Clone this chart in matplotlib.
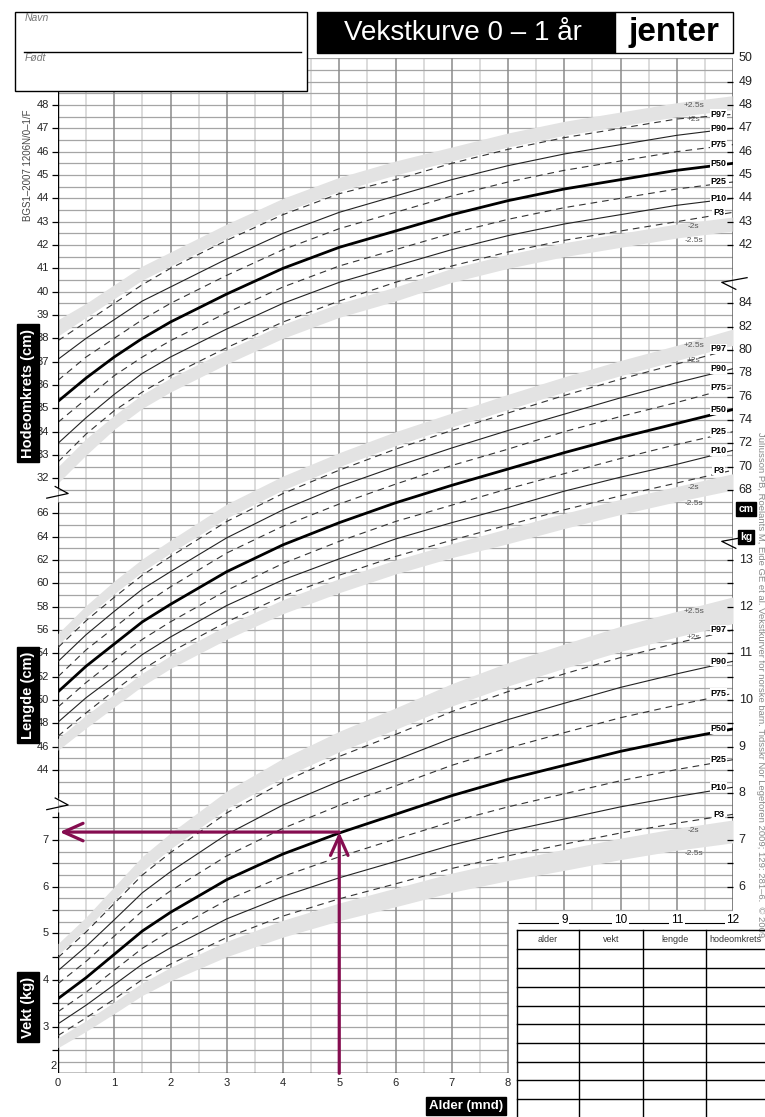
import numpy as np
import matplotlib.pyplot as plt

plt.rcParams['font.family'] = ['Liberation Sans', 'DejaVu Sans']

# alder i måneder
alder = [0, 0.5, 1, 1.5, 2, 3, 4, 5, 6, 7, 8, 9, 10, 11, 12]

# hodeomkrets (cm)
hode_m25 = [31.8, 33.0, 34.1, 35.0, 35.7, 36.9, 38.0, 38.9, 39.6, 40.4, 41.0, 41.5, 41.9, 42.3, 42.6]
hode_m2 = [32.5, 33.7, 34.7, 35.6, 36.3, 37.5, 38.6, 39.5, 40.2, 41.0, 41.6, 42.1, 42.5, 42.9, 43.2]
hode_p3 = [32.7, 33.9, 34.9, 35.7, 36.4, 37.6, 38.7, 39.6, 40.4, 41.1, 41.7, 42.2, 42.6, 43.0, 43.4]
hode_p10 = [33.5, 34.6, 35.6, 36.5, 37.2, 38.4, 39.5, 40.4, 41.1, 41.8, 42.4, 42.9, 43.3, 43.7, 44.0]
hode_p25 = [34.4, 35.4, 36.4, 37.2, 37.9, 39.1, 40.2, 41.1, 41.8, 42.5, 43.1, 43.6, 44.0, 44.4, 44.7]
hode_p50 = [35.3, 36.3, 37.2, 38.0, 38.7, 39.9, 41.0, 41.9, 42.6, 43.3, 43.9, 44.4, 44.8, 45.2, 45.5]
hode_p75 = [36.2, 37.2, 38.0, 38.8, 39.5, 40.7, 41.8, 42.7, 43.4, 44.1, 44.7, 45.2, 45.6, 46.0, 46.3]
hode_p90 = [37.1, 38.0, 38.8, 39.6, 40.2, 41.4, 42.5, 43.4, 44.1, 44.8, 45.4, 45.9, 46.3, 46.7, 47.0]
hode_p97 = [37.9, 38.7, 39.5, 40.3, 41.0, 42.2, 43.3, 44.2, 44.8, 45.5, 46.1, 46.6, 47.0, 47.4, 47.6]
hode_s2 = [38.1, 38.9, 39.7, 40.5, 41.1, 42.3, 43.4, 44.3, 45.0, 45.6, 46.2, 46.7, 47.1, 47.5, 47.8]
hode_s25 = [38.8, 39.5, 40.3, 41.1, 41.7, 42.9, 44.0, 44.9, 45.6, 46.2, 46.8, 47.3, 47.7, 48.1, 48.4]

# lengde (cm)
lengde_m25 = [45.7, 47.6, 49.4, 51.2, 52.7, 55.2, 57.4, 59.2, 60.8, 62.2, 63.4, 64.7, 65.9, 67.0, 68.0]
lengde_m2 = [46.7, 48.7, 50.5, 52.3, 53.8, 56.4, 58.6, 60.4, 62.0, 63.4, 64.7, 66.0, 67.2, 68.3, 69.4]
lengde_p3 = [46.9, 48.9, 50.8, 52.6, 54.1, 56.7, 58.9, 60.7, 62.3, 63.7, 65.0, 66.3, 67.5, 68.6, 69.7]
lengde_p10 = [48.1, 50.2, 52.0, 53.9, 55.4, 58.1, 60.3, 62.1, 63.8, 65.2, 66.5, 67.9, 69.1, 70.2, 71.4]
lengde_p25 = [49.4, 51.5, 53.4, 55.2, 56.7, 59.4, 61.7, 63.6, 65.3, 66.7, 68.1, 69.4, 70.7, 71.9, 73.0]
lengde_p50 = [50.7, 52.9, 54.8, 56.7, 58.2, 61.0, 63.3, 65.2, 66.9, 68.4, 69.8, 71.2, 72.5, 73.7, 74.9]
lengde_p75 = [52.0, 54.3, 56.2, 58.1, 59.7, 62.6, 64.9, 66.8, 68.5, 70.1, 71.5, 73.0, 74.3, 75.5, 76.8]
lengde_p90 = [53.3, 55.6, 57.6, 59.5, 61.0, 63.9, 66.3, 68.3, 70.0, 71.6, 73.1, 74.5, 75.9, 77.2, 78.4]
lengde_p97 = [54.5, 56.8, 58.8, 60.7, 62.3, 65.3, 67.7, 69.7, 71.5, 73.1, 74.6, 76.1, 77.5, 78.8, 80.1]
lengde_s2 = [54.7, 57.1, 59.1, 61.0, 62.6, 65.6, 68.0, 70.0, 71.8, 73.4, 74.9, 76.4, 77.8, 79.1, 80.4]
lengde_s25 = [55.7, 58.1, 60.2, 62.1, 63.7, 66.8, 69.2, 71.2, 73.0, 74.6, 76.2, 77.7, 79.1, 80.4, 81.8]

# vekt (kg)
vekt_m25 = [2.55, 2.90, 3.28, 3.67, 3.98, 4.50, 4.92, 5.27, 5.57, 5.88, 6.13, 6.35, 6.58, 6.78, 6.94]
vekt_m2 = [2.76, 3.13, 3.53, 3.94, 4.27, 4.83, 5.28, 5.65, 5.97, 6.29, 6.56, 6.80, 7.04, 7.25, 7.43]
vekt_p3 = [2.81, 3.19, 3.59, 4.01, 4.34, 4.91, 5.37, 5.74, 6.06, 6.39, 6.66, 6.91, 7.15, 7.36, 7.55]
vekt_p10 = [3.06, 3.46, 3.90, 4.34, 4.69, 5.31, 5.79, 6.19, 6.54, 6.89, 7.19, 7.45, 7.71, 7.93, 8.13]
vekt_p25 = [3.32, 3.74, 4.21, 4.68, 5.05, 5.71, 6.22, 6.64, 7.02, 7.39, 7.71, 7.99, 8.27, 8.51, 8.72]
vekt_p50 = [3.60, 4.05, 4.55, 5.05, 5.45, 6.15, 6.70, 7.15, 7.55, 7.95, 8.30, 8.60, 8.90, 9.15, 9.38]
vekt_p75 = [3.92, 4.40, 4.94, 5.48, 5.91, 6.66, 7.25, 7.74, 8.16, 8.60, 8.97, 9.30, 9.62, 9.89, 10.14]
vekt_p90 = [4.20, 4.72, 5.29, 5.87, 6.32, 7.12, 7.75, 8.26, 8.71, 9.18, 9.58, 9.93, 10.27, 10.56, 10.83]
vekt_p97 = [4.48, 5.03, 5.64, 6.25, 6.73, 7.58, 8.24, 8.79, 9.26, 9.75, 10.18, 10.56, 10.91, 11.22, 11.50]
vekt_s2 = [4.54, 5.09, 5.71, 6.33, 6.81, 7.67, 8.34, 8.89, 9.37, 9.87, 10.30, 10.68, 11.04, 11.35, 11.64]
vekt_s25 = [4.78, 5.35, 6.00, 6.65, 7.15, 8.05, 8.75, 9.33, 9.83, 10.35, 10.80, 11.20, 11.58, 11.90, 12.21]

# eksempel: avlest vekt ved 5 mnd
eks_alder = 5
eks_vekt = 7.17

lilla = '#850d50'

W, H = 765, 1117
fig = plt.figure(figsize=(W / 100, H / 100), dpi=100)

top_px, bot_px = 58.33, 1073.33
pos = [58 / W, 1 - bot_px / H, 675 / W, (bot_px - top_px) / H]
ax = fig.add_axes(pos)      # hodeomkrets + rutenett
axl = fig.add_axes(pos)     # lengde
axw = fig.add_axes(pos)     # vekt
px_per = {}
for a, lim in ((ax, (6.5, 50)), (axl, (18, 105)), (axw, (2, 23.75))):
    a.set_xlim(0, 12)
    a.set_ylim(*lim)
    a.axis('off')
    a.patch.set_alpha(0)
    px_per[a] = (bot_px - top_px) / (lim[1] - lim[0])

# rutenett
for m in np.arange(0, 12.01, 0.5):
    lo = 6.5 if m <= 8 else 13.5
    if m % 1 == 0:
        ax.vlines(m, lo, 50, color='#8a8a8a', lw=1.1, zorder=1.2)
    else:
        ax.vlines(m, lo, 50, color='#d2d2d2', lw=1.1, zorder=1)
for y in np.arange(6.5, 50.01, 0.5):
    ax.hlines(y, 0, 12 if y >= 13.5 else 8, color='#a5a5a5', lw=0.9, zorder=1.1)


def tegn(a, data):
    m25, m2, p3, p10, p25, p50, p75, p90, p97, s2, s25 = data
    a.fill_between(alder, s2, s25, color='#e3e3e3', lw=0, zorder=2)
    a.fill_between(alder, m25, m2, color='#e3e3e3', lw=0, zorder=2)
    for v in (p3, p25, p75, p97):
        a.plot(alder, v, color='#333333', lw=0.8, dashes=(6, 4.5), zorder=3)
    for v in (p10, p90):
        a.plot(alder, v, color='#222222', lw=0.8, zorder=3)
    a.plot(alder, p50, color='black', lw=2.0, zorder=3.5)

    d = 5 / px_per[a]
    for v, lab in ((p97, 'P97'), (p90, 'P90'), (p75, 'P75'), (p50, 'P50'),
                   (p25, 'P25'), (p10, 'P10'), (p3, 'P3')):
        a.text(11.74, v[-1], lab, fontsize=6.5, fontweight='bold', ha='center',
               va='center', zorder=5,
               bbox=dict(boxstyle='square,pad=0.08', fc='white', ec='none'))
    for v, lab in ((s25, '+2.5s'), (s2, '+2s'), (m2, '-2s'), (m25, '-2.5s')):
        yv = v[-2] + 0.3 * (v[-1] - v[-2]) - d
        a.text(11.3, yv, lab, fontsize=6, color='#555555', ha='center',
               va='center', zorder=5)


tegn(ax, (hode_m25, hode_m2, hode_p3, hode_p10, hode_p25, hode_p50,
          hode_p75, hode_p90, hode_p97, hode_s2, hode_s25))
tegn(axl, (lengde_m25, lengde_m2, lengde_p3, lengde_p10, lengde_p25, lengde_p50,
           lengde_p75, lengde_p90, lengde_p97, lengde_s2, lengde_s25))
tegn(axw, (vekt_m25, vekt_m2, vekt_p3, vekt_p10, vekt_p25, vekt_p50,
           vekt_p75, vekt_p90, vekt_p97, vekt_s2, vekt_s25))

# akser
k = dict(color='black', lw=1.0, zorder=6)
for a0, a1 in ((6.5, 17.7), (18.3, 31.0), (31.6, 50)):
    ax.vlines(0, a0, a1, **k)
for a0, a1 in ((13.5, 29.1), (29.6, 40.2), (40.7, 50)):
    ax.vlines(12, a0, a1, **k)
ax.hlines(6.5, 0, 8, **k)
for yb in (17.95, 31.3):
    ax.plot([-0.2, 0.18, -0.05], [yb - 0.15, yb + 0.05, yb + 0.35], color='black',
            lw=0.9, zorder=6, clip_on=False)
for yb in (29.35, 40.45):
    ax.plot([12.25, 11.8, 12.05], [yb + 0.15, yb - 0.05, yb - 0.35], color='black',
            lw=0.9, zorder=6, clip_on=False)

tl = 0.11


def venstre(a, verdier, merker):
    for v in merker:
        a.hlines(v, -tl, 0, color='black', lw=0.9, clip_on=False, zorder=6)
    for v in verdier:
        a.text(-0.16, v, str(v), fontsize=8, ha='right', va='center', color='#222222')


def hoyre(a, verdier, merker):
    for v in merker:
        a.hlines(v, 12 - tl, 12, color='black', lw=0.9, clip_on=False, zorder=6)
    for v in verdier:
        a.text(12.1, v, str(v), fontsize=9, ha='left', va='center', color='#222222')


venstre(ax, list(range(32, 49)), list(range(32, 49)))
venstre(axl, list(range(44, 67, 2)), list(range(44, 67, 2)))
venstre(axw, list(range(3, 8)), list(np.arange(2.5, 7.51, 0.5)))
hoyre(ax, list(range(42, 51)), list(range(42, 50)))
hoyre(axl, list(range(68, 85, 2)), list(range(68, 85, 2)))
hoyre(axw, list(range(6, 14)), list(np.arange(6, 13.01, 0.5)))
axw.text(-0.02, 2.05, '2', fontsize=8, ha='right', va='bottom', color='#222222')

for m in range(0, 9):
    ax.text(m, 6.1, str(m), fontsize=8, ha='center', va='center', color='#222222')
ax.hlines(12.94, 8.17, 12, color='black', lw=0.8, zorder=6, clip_on=False)
for m in range(9, 13):
    ax.text(m, 13.07, str(m), fontsize=8.5, ha='center', va='center', zorder=7,
            bbox=dict(boxstyle='square,pad=0.15', fc='white', ec='none'))

# eksempel med piler
axw.annotate('', xy=(eks_alder, eks_vekt), xytext=(eks_alder, 2),
             arrowprops=dict(arrowstyle='->,head_length=1.0,head_width=0.45',
                             color=lilla, lw=2.3, mutation_scale=14,
                             shrinkA=0, shrinkB=0), zorder=8)
axw.annotate('', xy=(0.03, eks_vekt), xytext=(eks_alder, eks_vekt),
             arrowprops=dict(arrowstyle='->,head_length=1.0,head_width=0.45',
                             color=lilla, lw=2.3, mutation_scale=14,
                             shrinkA=0, shrinkB=0), zorder=8)

# pynt over kurvene
fg = fig.add_axes([0, 0, 1, 1])
fg.set_xlim(0, W)
fg.set_ylim(H, 0)
fg.axis('off')
fg.patch.set_alpha(0)

fg.add_patch(plt.Rectangle((15, 12), 292, 79, fc='white', ec='black', lw=1.0))
fg.plot([24, 301], [52, 52], color='black', lw=1.0)
fg.text(25, 18, 'Navn', fontsize=7.5, style='italic', color='#777777', va='center')
fg.text(25, 58, 'Født', fontsize=7.5, style='italic', color='#777777', va='center')

fg.add_patch(plt.Rectangle((317, 12), 298, 41, fc='black', ec='black', lw=1.0))
fg.add_patch(plt.Rectangle((615, 12), 118, 41, fc='white', ec='black', lw=1.0))
fg.text(463, 33, 'Vekstkurve 0 – 1 år', fontsize=20, color='white',
        ha='center', va='center')
fg.text(674, 32, 'jenter', fontsize=24, fontweight='bold', color='black',
        ha='center', va='center')

fg.text(28, 165, 'BGS1–2007 1206N/0–1/F', fontsize=7, color='#444444',
        rotation=90, ha='center', va='center')
boks = dict(boxstyle='square,pad=0.3', fc='black', ec='black')
fg.text(28, 393, 'Hodeomkrets (cm)', fontsize=10.5, fontweight='bold', color='white',
        rotation=90, ha='center', va='center', bbox=boks)
fg.text(28, 695, 'Lengde (cm)', fontsize=10.5, fontweight='bold', color='white',
        rotation=90, ha='center', va='center', bbox=boks)
fg.text(28, 1007, 'Vekt (kg)', fontsize=10.5, fontweight='bold', color='white',
        rotation=90, ha='center', va='center', bbox=boks)
boks2 = dict(boxstyle='square,pad=0.2', fc='black', ec='black')
fg.text(746, 509, 'cm', fontsize=7.5, fontweight='bold', color='white',
        ha='center', va='center', bbox=boks2)
fg.text(746, 537, 'kg', fontsize=7.5, fontweight='bold', color='white',
        ha='center', va='center', bbox=boks2)
fg.text(466, 1106, 'Alder (mnd)', fontsize=9.5, fontweight='bold', color='white',
        ha='center', va='center', bbox=boks2)

# kildehenvisning langs høyre kant
fg.text(761, 685, 'Júlíusson PB, Roelants M, Eide GE et al. Vekstkurver for norske barn. '
        'Tidsskr Nor Legeforen 2009; 129: 281–6.  © 2009',
        fontsize=6.8, color='#888888', rotation=-90, ha='center', va='center',
        zorder=0)

# tabell
kol_x = [517, 579, 643, 706]
rad_y = [930, 949, 968, 987, 1006, 1024, 1043, 1062, 1080, 1099]
for x in kol_x:
    fg.plot([x, x], [930, H], color='black', lw=1.0)
for y in rad_y:
    fg.plot([517, W], [y, y], color='black', lw=1.0)
for x, t in zip([548, 611, 675], ['alder', 'vekt', 'lengde']):
    fg.text(x, 939, t, fontsize=6.5, ha='center', va='center', color='#333333')
fg.text(709, 939, 'hodeomkrets', fontsize=6.5, ha='left', va='center', color='#333333')

fig.savefig('out.png', dpi=100)
